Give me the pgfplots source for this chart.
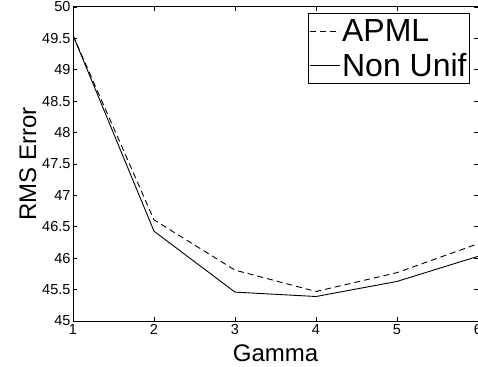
\documentclass[border=0pt]{standalone}
\usepackage{fontspec}
\setmainfont{Liberation Sans}
\usepackage{pgfplots}
\pgfplotsset{compat=1.18}
\begin{document}
\begin{tikzpicture}
\begin{axis}[
  scale only axis,
  width=405pt, height=314pt,
  xmin=1, xmax=6, ymin=45, ymax=50,
  xtick={1,2,3,4,5,6},
  ytick={45,45.5,46,46.5,47,47.5,48,48.5,49,49.5,50},
  yticklabels={45,45.5,46,46.5,47,47.5,48,48.5,49,49.5,50},
  xticklabels={1,2,3,4,5,6},
  tick align=inside,
  major tick length=4pt,
  axis line style={line width=1pt},
  every tick/.style={black, line width=0.6pt},
  tick label style={font=\fontsize{14.5}{15}\selectfont},
  yticklabel style={xshift=1pt},
  xlabel={Gamma}, ylabel={RMS Error},
  label style={font=\fontsize{24}{26}\selectfont},
  xlabel style={yshift=-3pt},
  ylabel style={yshift=-1pt},
  legend style={at={(1,1)}, xshift=-8pt, yshift=-6pt, anchor=north east,
    font=\fontsize{32}{34}\selectfont, draw=black, line width=0.8pt,
    inner xsep=1pt, inner ysep=4pt, row sep=6pt},
  legend cell align=left,
  legend image code/.code={\draw[#1, line width=0.8pt] (0pt,0pt) -- (30pt,0pt);},
]
\addplot[black, line width=0.9pt, dash pattern=on 6pt off 4pt] coordinates {
 (1,49.55) (2,46.61) (3,45.81) (4,45.47) (5,45.77) (6,46.23)};
\addlegendentry{APML}
\addplot[black, line width=0.9pt] coordinates {
 (1,49.55) (2,46.43) (3,45.46) (4,45.39) (5,45.63) (6,46.03)};
\addlegendentry{Non Unif}
\end{axis}
\pgfresetboundingbox
\path ([shift={(-73pt,-45pt)}]current axis.south west) rectangle ([shift={(0pt,7pt)}]current axis.north east);
\end{tikzpicture}
\end{document}
